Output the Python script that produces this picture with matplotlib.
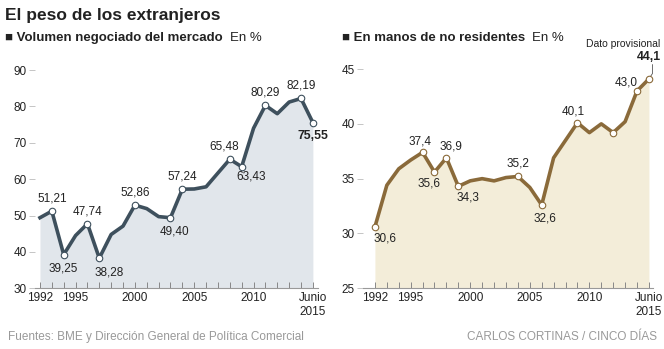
import matplotlib
matplotlib.use('Agg')
import matplotlib.pyplot as plt

plt.rcParams['font.family'] = ['Liberation Sans', 'DejaVu Sans']

years = list(range(1992, 2016))

# Volumen negociado del mercado (%)
volumen = [49.4, 51.21, 39.25, 44.5, 47.74, 38.28, 44.8, 47.1, 52.86, 51.9,
           49.7, 49.40, 57.24, 57.3, 57.9, 61.7, 65.48, 63.43, 74.0, 80.29,
           78.0, 81.2, 82.19, 75.55]
vol_labels = {1993: '51,21', 1994: '39,25', 1996: '47,74', 1997: '38,28',
              2000: '52,86', 2003: '49,40', 2004: '57,24', 2008: '65,48',
              2009: '63,43', 2011: '80,29', 2014: '82,19', 2015: '75,55'}

# En manos de no residentes (%)
residentes = [30.6, 34.4, 35.9, 36.7, 37.4, 35.6, 36.9, 34.3, 34.8, 35.0,
              34.8, 35.1, 35.2, 34.2, 32.6, 36.9, 38.5, 40.1, 39.2, 40.0,
              39.2, 40.2, 43.0, 44.1]
res_labels = {1992: '30,6', 1996: '37,4', 1997: '35,6', 1998: '36,9',
              1999: '34,3', 2004: '35,2', 2006: '32,6', 2009: '40,1',
              2012: '', 2014: '43,0', 2015: '44,1'}

xtick_years = [1992, 1995, 2000, 2005, 2010, 2015]
xtick_text = ['1992', '1995', '2000', '2005', '2010', 'Junio\n2015']

# label offsets in points (dx, dy)
vol_off = {1993: (0, 9), 1994: (0, -10), 1996: (0, 9), 1997: (7, -10),
           2000: (0, 9), 2003: (3, -10), 2004: (0, 9), 2008: (-4, 9),
           2009: (7, -7), 2011: (0, 9), 2014: (0, 9), 2015: (0, -10)}
res_off = {1992: (7, -8), 1996: (-2, 8), 1997: (-4, -8), 1998: (3, 8),
           1999: (7, -8), 2004: (0, 9), 2006: (2, -10), 2009: (-3, 8),
           2012: (0, 0), 2014: (-8, 6), 2015: (0, 16)}

fig = plt.figure(figsize=(6.64, 3.49), dpi=100)

def panel(rect, vals, labels, offs, ylim, yticks, line_c, fill_c, xlim):
    ax = fig.add_axes(rect)
    ax.fill_between(years, vals, ylim[0], color=fill_c, lw=0, zorder=1)
    ax.plot(years, vals, color=line_c, lw=2.6, zorder=2, solid_joinstyle='round')
    mx = [y for y in labels]
    my = [vals[years.index(y)] for y in mx]
    ax.scatter(mx, my, s=22, facecolor='white', edgecolor=line_c, lw=0.8, zorder=3)
    for y, t in labels.items():
        if not t:
            continue
        dx, dy = offs[y]
        bold = y == 2015
        ax.annotate(t, (y, vals[years.index(y)]), xytext=(dx, dy),
                    textcoords='offset points', ha='center', va='center',
                    fontsize=8.8 if bold else 8.5, color='#222222',
                    fontweight='bold' if bold else 'normal')
    ax.set_xlim(*xlim)
    ax.set_ylim(*ylim)
    for s in ['top', 'right', 'left']:
        ax.spines[s].set_visible(False)
    ax.spines['bottom'].set_color('#999999')
    ax.spines['bottom'].set_linewidth(0.8)
    ax.set_yticks(yticks)
    ax.set_yticklabels([str(v) for v in yticks])
    ax.tick_params(axis='y', length=4, width=0.6, color='#bbbbbb', pad=2,
                   labelsize=8.5, labelcolor='#222222')
    ax.set_xticks(years)
    ax.set_xticklabels([xtick_text[xtick_years.index(y)] if y in xtick_years else ''
                        for y in years])
    ax.tick_params(axis='x', direction='in', length=4, width=0.7, color='#888888',
                   pad=3, labelsize=8.5, labelcolor='#222222')
    return ax

ax1 = panel([0.0527, 0.174, 0.426, 0.668], volumen, vol_labels, vol_off,
            (30, 94.1), [30, 40, 50, 60, 70, 80, 90],
            '#3e505d', '#e1e6eb', (1991.58, 2015.42))
ax2 = panel([0.5467, 0.174, 0.4367, 0.668], residentes, res_labels, res_off,
            (25, 46.27), [25, 30, 35, 40, 45],
            '#8a6a3a', '#f3edd9', (1991.0, 2015.34))

# leader line for provisional value
ax2.plot([2015, 2015.3, 2015.3], [44.1, 44.6, 45.4], color='#555555', lw=0.6,
         zorder=2, clip_on=False)
fig.text(0.994, 0.875, 'Dato provisional', ha='right', va='center',
         fontsize=7.5, color='#222222')

# titles
fig.text(0.008, 0.955, 'El peso de los extranjeros', ha='left', va='center',
         fontsize=12.5, fontweight='bold', color='#222222')
s1 = fig.text(0.008, 0.89, '\u25a0 Volumen negociado del mercado', ha='left',
              va='center', fontsize=9.5, fontweight='bold', color='#222222')
s2 = fig.text(0.515, 0.89, '\u25a0 En manos de no residentes', ha='left',
              va='center', fontsize=9.5, fontweight='bold', color='#222222')
fig.canvas.draw()
r = fig.canvas.get_renderer()
for s in (s1, s2):
    bb = s.get_window_extent(r)
    fig.text((bb.x1 + 7) / fig.bbox.width, 0.89, 'En %', ha='left', va='center',
             fontsize=9.5, color='#222222')

# footer
fig.text(0.012, 0.035, 'Fuentes: BME y Dirección General de Política Comercial',
         ha='left', va='center', fontsize=8.5, color='#999999')
fig.text(0.99, 0.035, 'CARLOS CORTINAS / CINCO DÍAS', ha='right', va='center',
         fontsize=8.5, color='#999999')

fig.savefig('out.png', dpi=100)
